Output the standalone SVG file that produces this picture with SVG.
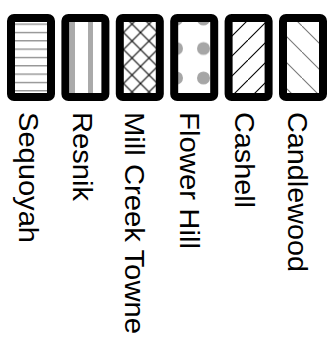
<svg xmlns="http://www.w3.org/2000/svg" width="336" height="339" viewBox="0 0 336 339">
  <style>
    .frame { fill: none; stroke: #000; stroke-width: 8; }
    .label { font-family: "Liberation Sans", Arial, sans-serif; font-size: 28px; fill: #000; }
  </style>
  <defs>
    <pattern id="hlines" patternUnits="userSpaceOnUse" x="0" y="23.5" width="10" height="8.33">
      <rect x="0" y="0" width="10" height="1.3" fill="#8a8a8a"/>
    </pattern>
    <pattern id="vbars" patternUnits="userSpaceOnUse" x="70" y="0" width="18" height="10">
      <rect x="0" y="0" width="5" height="10" fill="#aaaaaa"/>
    </pattern>
    <pattern id="cross" patternUnits="userSpaceOnUse" x="123.5" y="15.5" width="17" height="17">
      <path d="M0,0 L17,17 M17,0 L0,17" stroke="#000" stroke-width="1.1" fill="none"/>
    </pattern>
    <pattern id="dots" patternUnits="userSpaceOnUse" x="163" y="4.25" width="27" height="29.5">
      <circle cx="13.5" cy="14.75" r="6.5" fill="#a6a6a6"/>
    </pattern>
    <pattern id="fwd" patternUnits="userSpaceOnUse" x="8" y="0" width="20" height="20">
      <path d="M-2,22 L22,-2" stroke="#000" stroke-width="1.1" fill="none"/>
    </pattern>
    <pattern id="back" patternUnits="userSpaceOnUse" x="16" y="0" width="26" height="26">
      <path d="M-2,-2 L28,28" stroke="#777" stroke-width="1.1" fill="none"/>
    </pattern>
  </defs>

  <g id="sequoyah">
    <rect x="11" y="18" width="40" height="79" fill="url(#hlines)"/>
    <rect class="frame" x="11" y="18" width="40" height="79" rx="3"/>
    <text class="label" transform="translate(19,112) rotate(90)" textLength="131" lengthAdjust="spacingAndGlyphs">Sequoyah</text>
  </g>
  <g id="resnik">
    <rect x="65.4" y="18" width="40" height="79" fill="url(#vbars)"/>
    <rect class="frame" x="65.4" y="18" width="40" height="79" rx="3"/>
    <text class="label" transform="translate(73,112) rotate(90)" textLength="89" lengthAdjust="spacingAndGlyphs">Resnik</text>
  </g>
  <g id="mill-creek-towne">
    <rect x="119.8" y="18" width="40" height="79" fill="url(#cross)"/>
    <rect class="frame" x="119.8" y="18" width="40" height="79" rx="3"/>
    <text class="label" transform="translate(125,112) rotate(90)" textLength="222" lengthAdjust="spacingAndGlyphs">Mill Creek Towne</text>
  </g>
  <g id="flower-hill">
    <rect x="174.2" y="18" width="40" height="79" fill="url(#dots)"/>
    <rect class="frame" x="174.2" y="18" width="40" height="79" rx="3"/>
    <text class="label" transform="translate(180,112) rotate(90)" textLength="137" lengthAdjust="spacingAndGlyphs">Flower Hill</text>
  </g>
  <g id="cashell">
    <rect x="228.6" y="18" width="40" height="79" fill="url(#fwd)"/>
    <rect class="frame" x="228.6" y="18" width="40" height="79" rx="3"/>
    <text class="label" transform="translate(235,112) rotate(90)" textLength="96" lengthAdjust="spacingAndGlyphs">Cashell</text>
  </g>
  <g id="candlewood">
    <rect x="283" y="18" width="40" height="79" fill="url(#back)"/>
    <rect class="frame" x="283" y="18" width="40" height="79" rx="3"/>
    <text class="label" transform="translate(288,112) rotate(90)" textLength="160" lengthAdjust="spacingAndGlyphs">Candlewood</text>
  </g>
  <g id="connectors"></g>
</svg>
